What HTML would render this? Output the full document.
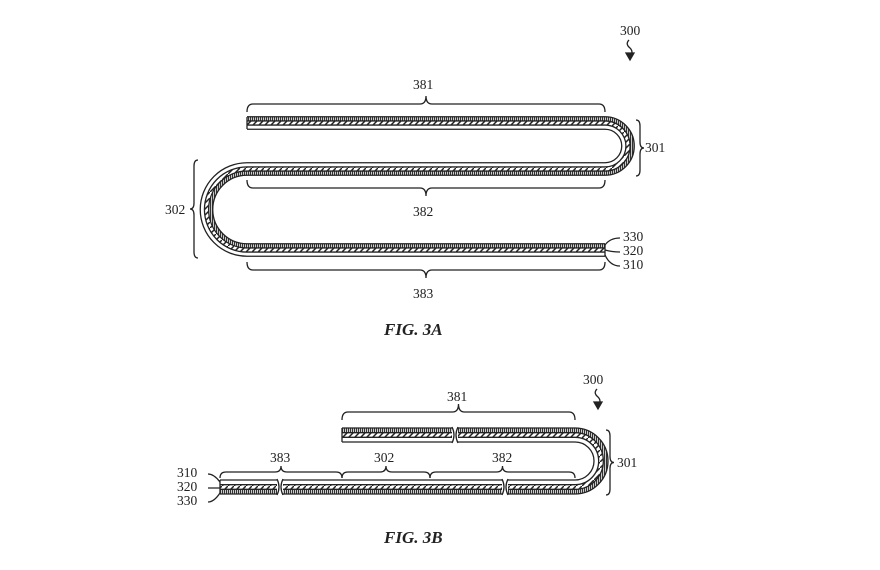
<!DOCTYPE html>
<html><head><meta charset="utf-8"><style>
html,body{margin:0;padding:0;background:#fff;}
svg{display:block}
text{font-family:"Liberation Serif",serif;font-size:13.5px;fill:#222}
.fig{font-weight:bold;font-style:italic;font-size:17px}
</style></head><body>
<svg id="s" width="880" height="570" viewBox="0 0 880 570" xmlns="http://www.w3.org/2000/svg">
<defs>
<pattern id="vs" width="2" height="4" patternUnits="userSpaceOnUse"><rect width="2" height="4" fill="#ddd"/><rect width="1.1" height="4" fill="#333"/></pattern>
<pattern id="hx" width="6" height="6" patternUnits="userSpaceOnUse"><rect width="6" height="6" fill="#fff"/><path d="M0,6 L6,0" stroke="#222" stroke-width="1.5"/></pattern>
</defs>
<g id="g" fill="none" stroke="#222" stroke-width="1.3"></g>
<text x="620" y="35">300</text>
<text x="413" y="89">381</text>
<text x="413" y="216">382</text>
<text x="413" y="298">383</text>
<text x="645" y="152">301</text>
<text x="165" y="214">302</text>
<text x="623" y="241">330</text>
<text x="623" y="255">320</text>
<text x="623" y="269">310</text>
<text class="fig" x="384" y="335">FIG. 3A</text>
<text x="583" y="384">300</text>
<text x="447" y="401">381</text>
<text x="270" y="462">383</text>
<text x="374" y="462">302</text>
<text x="492" y="462">382</text>
<text x="617" y="467">301</text>
<text x="177" y="477">310</text>
<text x="177" y="491">320</text>
<text x="177" y="505">330</text>
<text class="fig" x="384" y="543">FIG. 3B</text>
</svg>
<script>
const g=document.getElementById('g');
function add(d,attrs){const p=document.createElementNS('http://www.w3.org/2000/svg','path');p.setAttribute('d',d);for(const k in attrs)p.setAttribute(k,attrs[k]);g.appendChild(p);}
function A(d){return `M247,${123-d} L605,${123-d} A${23+d},${23+d} 0 0 1 605,${169+d} L247,${169+d} A${40.5-d},${40.5-d} 0 0 0 247,${250-d} L605,${250-d}`;}
function B(d){return `M342,${435-d} L575,${435-d} A${26+d},${26+d} 0 0 1 575,${487+d} L220,${487+d}`;}
function strip(P,t){
 const q=t/3;
 add(P(q),{stroke:'url(#vs)','stroke-width':q});
 add(P(0),{stroke:'url(#hx)','stroke-width':q});
 add(P(-q),{stroke:'#fff','stroke-width':q});
 [1.5*q,0.5*q,-0.5*q,-1.5*q].forEach(d=>add(P(d),{stroke:'#222','stroke-width':1.3}));
}
strip(A,12.5);
add('M247,117 L247,129 M605,244 L605,256',{});
strip(B,14);
add('M342,428 L342,442 M220,480 L220,494',{});
function brk(x,y1,y2){add(`M${x-3},${y1-1} L${x+3},${y1-1} L${x+3},${y2+1} L${x-3},${y2+1}Z`,{fill:'#fff',stroke:'none'});
 add(`M${x-3},${y1} Q${x+1},${(y1+y2)/2} ${x-3},${y2} M${x+3},${y1} Q${x-1},${(y1+y2)/2} ${x+3},${y2}`,{});}
brk(455,427,443);brk(280,479,495);brk(505,479,495);
function hb(x1,x2,yb,yt){const ym=(yb+yt)/2,xc=(x1+x2)/2,r=6;
 add(`M${x1},${yb} Q${x1},${ym} ${x1+r},${ym} L${xc-r},${ym} Q${xc},${ym} ${xc},${yt} Q${xc},${ym} ${xc+r},${ym} L${x2-r},${ym} Q${x2},${ym} ${x2},${yb}`,{});}
function vb(xb,xt,y1,y2){const xm=(xb+xt)/2,yc=(y1+y2)/2,r=6;
 add(`M${xb},${y1} Q${xm},${y1} ${xm},${y1+r} L${xm},${yc-r} Q${xm},${yc} ${xt},${yc} Q${xm},${yc} ${xm},${yc+r} L${xm},${y2-r} Q${xm},${y2} ${xb},${y2}`,{});}
hb(247,605,112,96);hb(247,605,180,196);hb(247,605,262,278);
vb(636,644,120,176);vb(198,190,160,258);
hb(342,575,420,404);hb(220,342,478,466);hb(342,430,478,466);hb(430,575,478,466);
vb(606,614,430,495);
add('M605,245 Q610,238 620,238 M605,250 Q612,252 620,252 M605,255 Q610,266 620,266',{});
add('M208,474 Q214,474 220,482 M208,488 L220,488 M208,502 Q214,502 220,493',{});
add('M629,40 Q625,44 630,48 Q634,52 630,58',{});
add('M626,53 L630,60 L634,53Z',{fill:'#222'});
add('M597,389 Q593,393 598,397 Q602,401 598,407',{});
add('M594,402 L598,409 L602,402Z',{fill:'#222'});
</script>
</body></html>
